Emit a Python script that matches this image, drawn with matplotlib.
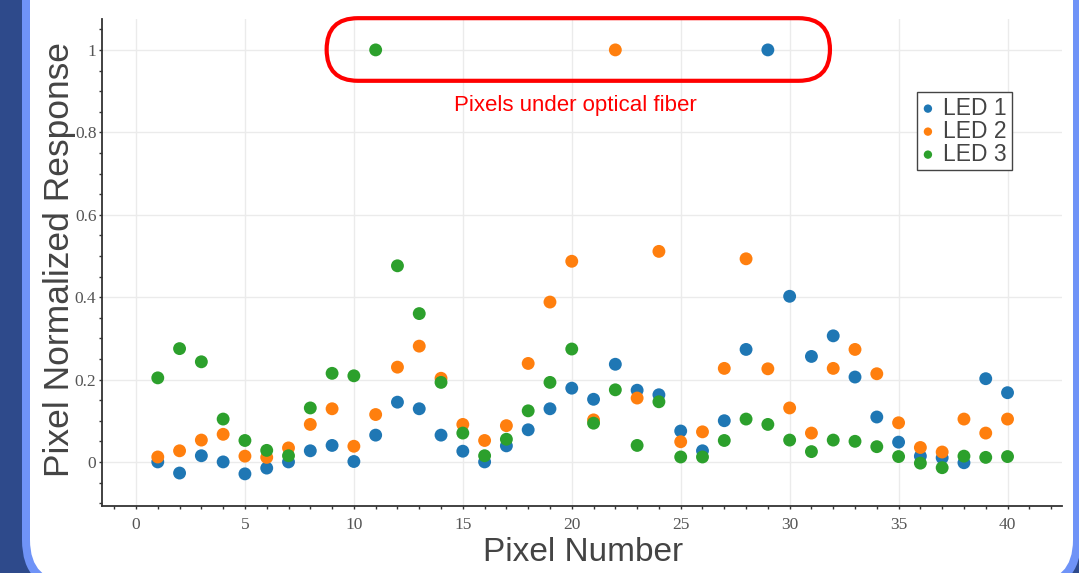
import matplotlib
matplotlib.use("Agg")
import matplotlib.pyplot as plt
from matplotlib.patches import FancyBboxPatch
from matplotlib.ticker import MultipleLocator, FuncFormatter

# pixel index along the sensor row
pixels = list(range(1, 41))

# normalized response per LED
led1 = [0.000, -0.027, 0.015, 0.000, -0.029, -0.015, 0.000, 0.027, 0.040, 0.001,
        0.065, 0.145, 0.129, 0.065, 0.026, 0.000, 0.039, 0.078, 0.129, 0.179,
        0.152, 0.237, 0.174, 0.163, 0.075, 0.027, 0.100, 0.273, 1.000, 0.402,
        0.256, 0.306, 0.206, 0.109, 0.048, 0.014, 0.010, -0.002, 0.202, 0.168]
led2 = [0.012, 0.027, 0.053, 0.067, 0.014, 0.011, 0.034, 0.091, 0.129, 0.038,
        0.115, 0.230, 0.281, 0.203, 0.091, 0.052, 0.088, 0.239, 0.388, 0.487,
        0.102, 1.000, 0.155, 0.511, 0.049, 0.073, 0.227, 0.493, 0.226, 0.131,
        0.070, 0.227, 0.273, 0.214, 0.095, 0.035, 0.024, 0.104, 0.070, 0.104]
led3 = [0.204, 0.275, 0.243, 0.104, 0.052, 0.028, 0.015, 0.131, 0.215, 0.209,
        1.000, 0.476, 0.360, 0.193, 0.070, 0.015, 0.055, 0.124, 0.193, 0.274,
        0.094, 0.175, 0.040, 0.146, 0.012, 0.012, 0.052, 0.104, 0.091, 0.053,
        0.025, 0.053, 0.050, 0.037, 0.013, -0.003, -0.014, 0.014, 0.011, 0.013]

series = [("LED 1", led1, "#1f77b4"),
          ("LED 2", led2, "#ff7f0e"),
          ("LED 3", led3, "#2ca02c")]

# pixels sitting under the fiber (x range of the callout box)
fiber_span = (8.75, 31.85)
fiber_label = "Pixels under optical fiber"

W, H = 1079, 573
fig = plt.figure(figsize=(W / 100, H / 100), dpi=100)
fig.patch.set_facecolor("#2e4a8b")

# slide frame: light blue border + white rounded panel
frame = FancyBboxPatch((0.22, -0.17), 10.59, 6.5,
                       boxstyle="round,pad=0,rounding_size=0.5",
                       transform=fig.dpi_scale_trans, facecolor="#6f93f7",
                       edgecolor="none", zorder=-10)
panel = FancyBboxPatch((0.30, -0.09), 10.43, 6.5,
                       boxstyle="round,pad=0,rounding_size=0.42",
                       transform=fig.dpi_scale_trans, facecolor="white",
                       edgecolor="none", zorder=-9)
fig.patches.extend([frame, panel])

ax = fig.add_axes([102 / W, 67 / H, 960 / W, 487 / H])
ax.set_facecolor("white")

for name, vals, col in series:
    ax.scatter(pixels, vals, s=86, color=col, edgecolors="none", label=name,
               zorder=3)

ax.set_xlim(-1.56, 42.5)
ax.set_ylim(-0.107, 1.075)

ax.xaxis.set_major_locator(MultipleLocator(5))
ax.xaxis.set_minor_locator(MultipleLocator(1))
ax.yaxis.set_major_locator(MultipleLocator(0.2))
ax.yaxis.set_minor_locator(MultipleLocator(0.05))
ax.yaxis.set_major_formatter(FuncFormatter(lambda v, p: "%g" % round(v, 3)))

ax.grid(True, which="major", color="#ebebeb", linewidth=1.0, zorder=0)
ax.set_axisbelow(True)

for s in ["top", "right"]:
    ax.spines[s].set_visible(False)
for s in ["left", "bottom"]:
    ax.spines[s].set_color("#333333")
    ax.spines[s].set_linewidth(1.3)

ax.tick_params(which="both", direction="out", length=2, width=1,
               color="#333333", labelcolor="#555555")
ax.tick_params(axis="x", pad=6)
ax.tick_params(axis="y", pad=2)
for lab in ax.get_xticklabels() + ax.get_yticklabels():
    lab.set_fontfamily("Liberation Serif")
    lab.set_fontsize(12.5)

ax.set_xlabel("Pixel Number", fontsize=24, color="#444444",
              fontfamily="Liberation Sans")
ax.xaxis.set_label_coords(0.501, -0.064)
ax.set_ylabel("Pixel Normalized Response", fontsize=25.5, color="#444444",
              fontfamily="Liberation Sans")
ax.yaxis.set_label_coords(-0.027, 0.507)

leg = ax.legend(loc="upper left", bbox_to_anchor=(0.849, 0.850),
                borderaxespad=0, prop={"family": "Liberation Sans", "size": 16.5},
                labelspacing=0.0, handlelength=0.55, handletextpad=0.4,
                borderpad=0.2, markerscale=0.65, fancybox=False,
                framealpha=1, edgecolor="#444444")
leg.get_frame().set_linewidth(1.0)
for t in leg.get_texts():
    t.set_color("#444444")

# callout: rounded red box round the saturated pixels
x0, y0 = ax.transData.transform((fiber_span[0], 0.925))
x1, y1 = ax.transData.transform((fiber_span[1], 1.077))
inv = fig.dpi_scale_trans.inverted()
(ix0, iy0), (ix1, iy1) = inv.transform([(x0, y0), (x1, y1)])
box = FancyBboxPatch((ix0, iy0), ix1 - ix0, iy1 - iy0,
                     boxstyle="round,pad=0,rounding_size=%.3f" % ((iy1 - iy0) / 2),
                     transform=fig.dpi_scale_trans, facecolor="none",
                     edgecolor="#ff0000", linewidth=3, clip_on=False, zorder=4)
ax.add_patch(box)
ax.text(sum(fiber_span) / 2 - 0.15, 0.866, fiber_label, color="#ff0000",
        fontsize=16, fontfamily="Liberation Sans", ha="center", va="center")

fig.savefig("out.png", dpi=100, facecolor=fig.get_facecolor())
